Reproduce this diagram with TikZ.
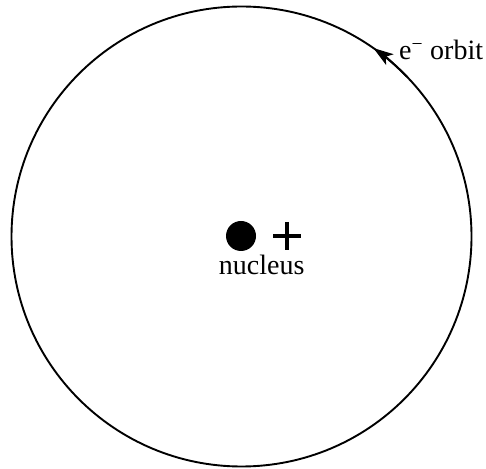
\documentclass[tikz,border=0pt]{standalone}
\usepackage{fontspec}
\setmainfont{Liberation Serif}
\usetikzlibrary{arrows.meta,positioning,calc}
\tikzset{
  orbitring/.style={draw,circle,line width=1.9pt,inner sep=0pt,outer sep=0pt,
    minimum size=460pt},
  nucdot/.style={circle,fill=black,inner sep=0pt,minimum size=30pt},
  plusmark/.style={inner sep=0pt,minimum size=28pt,
    path picture={\draw[line width=3.2pt]
      (path picture bounding box.west) -- (path picture bounding box.east)
      (path picture bounding box.north) -- (path picture bounding box.south);}},
  lbl/.style={inner sep=0pt,font=\fontsize{28}{30}\selectfont},
}
\begin{document}
\begin{tikzpicture}[x=1pt,y=1pt,
  fl/.style={line width=1.9pt,-{Stealth[length=20pt,width=13pt,inset=5pt]}}]
  \useasboundingbox (0,0) rectangle (486,468);
  % orbit and nucleus
  \node[orbitring] (orbit) at (241.5,231.5) {};
  \node[nucdot]    (nuc)   at (241,232) {};
  \node[plusmark]  (plus)  at (287,232) {};
  \node[lbl,anchor=base] (nuclbl) at ($(nuc)!0.45!(plus)+(0,-39)$) {nucleus};
  % direction of the electron
  \draw[fl] (orbit.44) arc[start angle=44,end angle=55,radius=230];
  \node[lbl,anchor=base west] (orblbl) at (399,408) {e\textsuperscript{\textminus} orbit};
\end{tikzpicture}
\end{document}
